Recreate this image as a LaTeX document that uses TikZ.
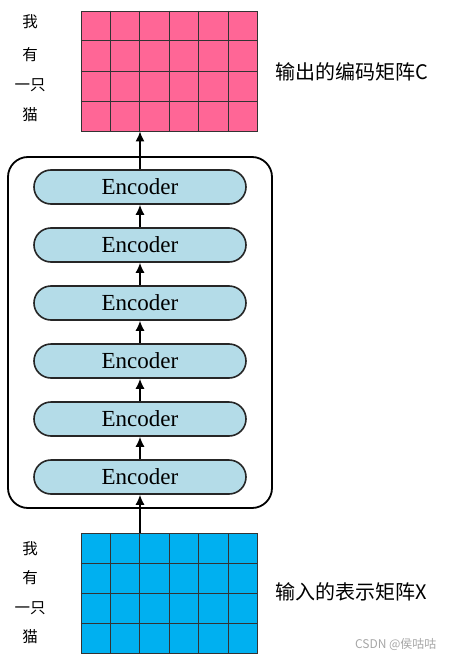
\documentclass[tikz,border=0pt]{standalone}
\usepackage{fontspec}
\setmainfont{Liberation Serif}
\newfontfamily\cjk{Noto Sans CJK SC}
\usetikzlibrary{arrows.meta,calc}

\definecolor{outpink}{RGB}{255,102,150}
\definecolor{inblue}{RGB}{0,176,240}
\definecolor{encblue}{RGB}{180,220,232}

\tikzset{
	matbox/.style={draw=black!80, line width=0.9pt, inner sep=0pt, minimum width=176pt, minimum height=120pt},
	encbox/.style={draw=black!85, line width=1.6pt, fill=encblue, rounded corners=17pt, minimum width=212pt, minimum height=34pt, font=\fontsize{23}{23}\selectfont},
	word/.style={font=\cjk\fontsize{15.5}{15.5}\selectfont},
	flow/.style={line width=1.4pt, -{Latex[length=10pt,width=9pt]}}
}

\begin{document}
\begin{tikzpicture}[x=1pt, y=-1pt]
	\useasboundingbox (0,0) rectangle (454,661);

	% outer stack
	\draw[line width=1.8pt, rounded corners=20pt] (8,157) rectangle (272,508);

	% matrices
	\node[matbox, fill=outpink] (C) at (169,71) {};
	\node[matbox, fill=inblue] (X) at (169,593.5) {};
	\foreach \m in {C,X} {
		\foreach \i in {1,...,5}
			\draw[black!80, line width=0.9pt] ($(\m.north west)!\i/6!(\m.north east)$) -- ($(\m.south west)!\i/6!(\m.south east)$);
		\foreach \j in {1,2,3}
			\draw[black!80, line width=0.9pt] ($(\m.north west)!\j/4!(\m.south west)$) -- ($(\m.north east)!\j/4!(\m.south east)$);
	}

	% encoders, e1 at the bottom
	\foreach \k in {1,...,6}
		\node[encbox] (e\k) at (140, {477-58*(\k-1)}) {Encoder};

	\draw[flow] (X.north -| e1.south) -- (e1.south);
	\foreach \k [evaluate=\k as \n using int(\k+1)] in {1,...,5}
		\draw[flow] (e\k.north) -- (e\n.south);
	\draw[flow] (e6.north) -- (e6.north |- C.south);

	% words
	\node[word] (w1) at (30,22) {我};
	\node[word] (w2) at (30,55) {有};
	\node[word] (w3) at (30,85) {一只};
	\node[word] (w4) at (30,115) {猫};
	\node[word] (v1) at (30,549) {我};
	\node[word] (v2) at (30,578) {有};
	\node[word] (v3) at (30,608) {一只};
	\node[word] (v4) at (30,637) {猫};

	\node[font=\cjk\fontsize{20}{20}\selectfont, anchor=west] (tc) at (272,72) {输出的编码矩阵C};
	\node[font=\cjk\fontsize{20}{20}\selectfont, anchor=west] (tx) at (272,592) {输入的表示矩阵X};
	\node[font=\cjk\fontsize{12}{12}\selectfont, text=black!35, anchor=east] (wm) at (440,645) {CSDN @侯咕咕};
\end{tikzpicture}
\end{document}
